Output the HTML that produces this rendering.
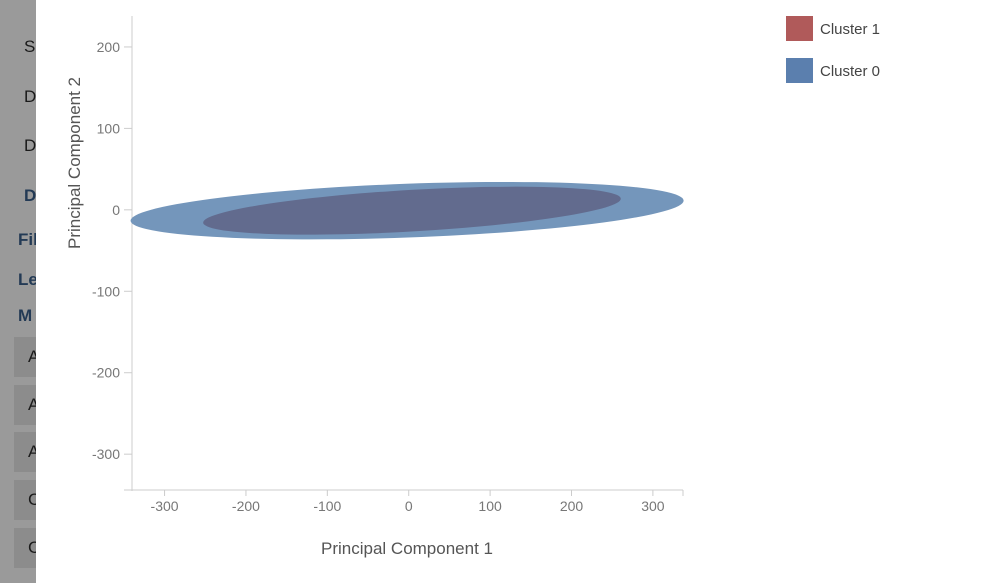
<!DOCTYPE html>
<html><head><meta charset="utf-8"><style>
body{margin:0;width:988px;height:583px;overflow:hidden;background:#fff;font-family:"Liberation Sans",sans-serif;position:relative}
#side{position:absolute;left:0;top:0;width:36px;height:583px;background:#9a9a9a;overflow:hidden}
.si{position:absolute;left:24px;font-size:17px;color:#1a1a1a}
.sb{position:absolute;left:18px;font-size:17px;font-weight:bold;color:#233a55}
.btn{position:absolute;left:14px;width:30px;height:40px;background:#8c8c8c}
.btn span{position:absolute;left:14px;top:10px;font-size:17px;color:#1a1a1a}
svg{position:absolute;left:0;top:0}
</style></head><body>
<div id="side">
 <div class="si" style="top:37px">Sa</div>
 <div class="si" style="top:87px">D</div>
 <div class="si" style="top:136px">D</div>
 <div class="sb" style="top:186px;left:24px">D</div>
 <div class="sb" style="top:230px">Fil</div>
 <div class="sb" style="top:270px">Le</div>
 <div class="sb" style="top:306px">M</div>
 <div class="btn" style="top:337px"><span>A</span></div>
 <div class="btn" style="top:385px"><span>A</span></div>
 <div class="btn" style="top:432px"><span>A</span></div>
 <div class="btn" style="top:480px"><span>C</span></div>
 <div class="btn" style="top:528px"><span>C</span></div>
</div>
<svg id="chart" width="988" height="583"></svg>
<script>
const xTicks=[-300,-200,-100,0,100,200,300];
const yTicks=[200,100,0,-100,-200,-300];
const clusterNames=["Cluster 0","Cluster 1"];
const clusterCx=[-2,4];
const clusterCy=[-1,-1];
const clusterRx=[340,257];
const clusterRy=[33,25.5];
const clusterAngle=[2.1,3.3];
const clusterFill=["#7496bb","#626b8e"];
const legendNames=["Cluster 1","Cluster 0"];
const legendColors=["#b05a5a","#5b7fae"];
const NS="http://www.w3.org/2000/svg";
const svg=document.getElementById('chart');
const X0=132,X1=683,Y0=16,Y1=490;
const xMin=-340,xMax=337,yMin=-344,yMax=238;
const sx=v=>X0+(v-xMin)/(xMax-xMin)*(X1-X0);
const sy=v=>Y1-(v-yMin)/(yMax-yMin)*(Y1-Y0);
function mk(t,a,txt){const e=document.createElementNS(NS,t);for(const k in a)e.setAttribute(k,a[k]);if(txt!==undefined)e.textContent=txt;svg.appendChild(e);return e;}
let e;
e=mk('line',{x1:X0,y1:Y0,x2:X0,y2:Y1+1,stroke:'#ccc'});


e=mk('line',{x1:124,y1:Y1,x2:X1,y2:Y1,stroke:'#ccc'});


e=mk('line',{x1:X1,y1:Y1,x2:X1,y2:Y1+6,stroke:'#ccc'});


xTicks.forEach(v=>{
 e=mk('line',{x1:sx(v),y1:Y1,x2:sx(v),y2:Y1+6,stroke:'#ccc'});
 
 
 e=mk('text',{x:sx(v),y:511,'text-anchor':'middle','font-size':14,fill:'#777'},String(v));
 
 
});
yTicks.forEach(v=>{
 e=mk('line',{x1:X0-8,y1:sy(v),x2:X0,y2:sy(v),stroke:'#ccc'});
 
 
 e=mk('text',{x:120,y:sy(v)+5,'text-anchor':'end','font-size':14,fill:'#777'},String(v));
 
 
});
clusterNames.forEach((n,i)=>{
 const cx=sx(clusterCx[i]),cy=sy(clusterCy[i]);
 const rx=sx(clusterCx[i]+clusterRx[i])-sx(clusterCx[i]);
 const ry=sy(clusterCy[i])-sy(clusterCy[i]+clusterRy[i]);
 e=mk('ellipse',{cx:cx,cy:cy,rx:rx,ry:ry,fill:clusterFill[i],transform:`rotate(${-clusterAngle[i]} ${cx} ${cy})`});
 
 
});
e=mk('text',{x:407,y:554,'text-anchor':'middle','font-size':17,fill:'#555'},'Principal Component 1');


e=mk('text',{x:0,y:0,'text-anchor':'middle','font-size':17,fill:'#555',transform:'translate(80,163) rotate(-90)'},'Principal Component 2');


legendNames.forEach((n,i)=>{
 const y=16+i*42;
 e=mk('rect',{x:786,y:y,width:27,height:25,fill:legendColors[i]});
 
 
 e=mk('text',{x:820,y:y+18,'font-size':15,fill:'#444'},n);
 
 
});
</script>
</body></html>
